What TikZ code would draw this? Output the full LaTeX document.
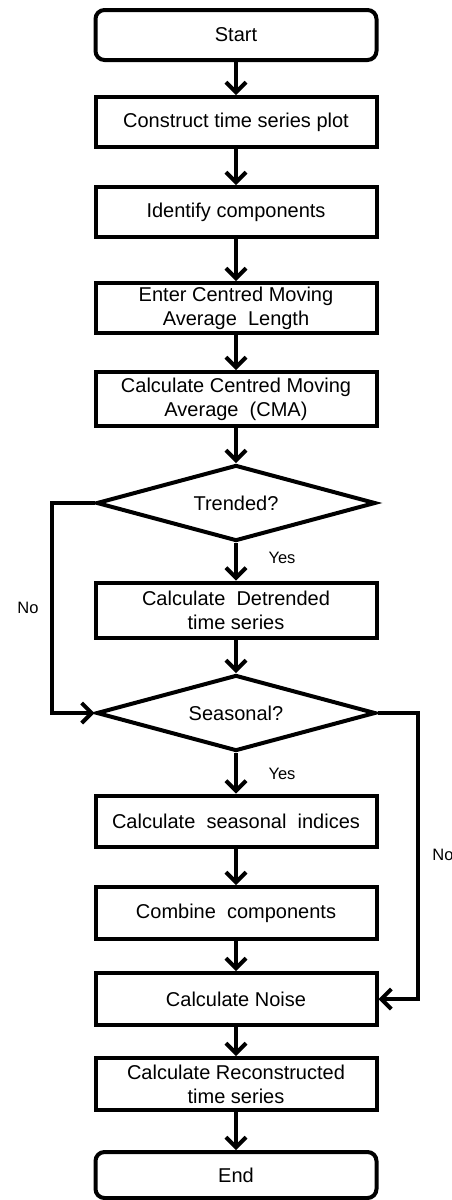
\documentclass[tikz,border=0pt]{standalone}
\usepackage{fontspec}
\setmainfont{Liberation Sans}
\usetikzlibrary{shapes.geometric,arrows.meta}
\begin{document}
\begin{tikzpicture}[x=1pt,y=-1pt,
  lw/.style={line width=4pt},
  box/.style={draw,lw,rectangle,minimum width=281pt,minimum height=50pt,inner sep=0pt,align=center,font=\fontsize{20}{24}\selectfont},
  term/.style={box,rounded corners=9pt},
  dec/.style={draw,lw,diamond,shape aspect=4,minimum width=279pt,minimum height=76pt,inner sep=0pt,font=\fontsize{20}{24}\selectfont},
  arr/.style={lw,-{Straight Barb[length=10pt,width=20pt,line width=4pt]}},
  lab/.style={font=\fontsize{16.5}{20}\selectfont}]
\useasboundingbox (0,0) rectangle (452,1200);
\node[term] (start) at (236,35) {Start};
\node[box] (cons) at (236,122) {Construct time series plot};
\node[box] (ident) at (236,212) {Identify components};
\node[box] (enter) at (236,308) {Enter Centred Moving\\Average\ \ Length};
\node[box,minimum height=54pt] (cma) at (236,399) {Calculate Centred Moving\\Average\ \ (CMA)};
\node[dec] (trend) at (236,503) {Trended?};
\node[box,minimum height=55pt] (detr) at (236,610) {Calculate\ \ Detrended\\time series};
\node[dec] (seas) at (236,713) {Seasonal?};
\node[box,minimum height=51pt] (ind) at (236,821) {Calculate\ \ seasonal\ \ indices};
\node[box,minimum height=52pt] (comb) at (236,913) {Combine\ \ components};
\node[box,minimum height=52pt] (noise) at (236,999) {Calculate Noise};
\node[box,minimum height=52pt] (recon) at (236,1084) {Calculate Reconstructed\\time series};
\node[term,minimum height=46pt] (end) at (236,1175) {End};
\draw[arr] (start) -- (cons);
\draw[arr] (cons) -- (ident);
\draw[arr] (ident) -- (enter);
\draw[arr] (enter) -- (cma);
\draw[arr] (cma) -- (trend);
\draw[arr] (trend) -- (detr);
\draw[arr] (detr) -- (seas);
\draw[arr] (seas) -- (ind);
\draw[arr] (ind) -- (comb);
\draw[arr] (comb) -- (noise);
\draw[arr] (noise) -- (recon);
\draw[arr] (recon) -- (end);
\draw[arr] (trend.west) -- ++(-43,0) |- (seas.west);
\draw[arr] (seas.east) -- ++(40,0) |- (noise.east);
\node[lab] (y1) at (282,558) {Yes};
\node[lab] (y2) at (282,774) {Yes};
\node[lab] (n1) at (28,608) {No};
\node[lab] (n2) at (443,855) {No};
\end{tikzpicture}
\end{document}
